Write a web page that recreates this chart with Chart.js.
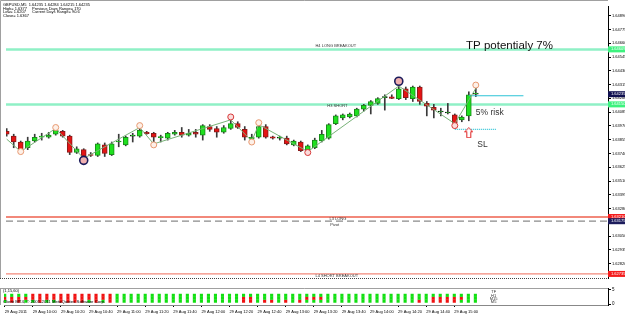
<!DOCTYPE html>
<html><head><meta charset="utf-8">
<script src="https://cdn.jsdelivr.net/npm/chart.js"></script>
<style>
html,body{margin:0;padding:0;background:#fff;width:625px;height:315px;overflow:hidden;}
#main{position:absolute;left:0;top:0;}
#panel{position:absolute;left:0;top:284px;}
</style></head><body>
<canvas id="main" width="625" height="284"></canvas>
<canvas id="panel" width="625" height="31"></canvas>
<script>
// ---------------- DATA ----------------
const barTimes = ["09:40","09:45","09:50","09:55",
 "10:00","10:05","10:10","10:15","10:20","10:25","10:30","10:35","10:40","10:45","10:50","10:55",
 "11:00","11:05","11:10","11:15","11:20","11:25","11:30","11:35","11:40","11:45","11:50","11:55",
 "12:00","12:05","12:10","12:15","12:20","12:25","12:30","12:35","12:40","12:45","12:50","12:55",
 "13:00","13:05","13:10","13:15","13:20","13:25","13:30","13:35","13:40","13:45","13:50","13:55",
 "14:00","14:05","14:10","14:15","14:20","14:25","14:30","14:35","14:40","14:45","14:50","14:55",
 "15:00","15:05","15:10","15:15"];

const ohlcOpen = [1.63925,1.63885,1.63836,1.63788,1.63844,1.63876,1.63876,1.63901,1.63925,1.63885,
 1.63748,1.63772,1.63731,1.63723,1.63812,1.63731,1.63836,1.63812,1.63885,1.63885,
 1.63917,1.63909,1.63872,1.63868,1.63901,1.63917,1.63893,1.63917,1.63893,1.63965,
 1.63949,1.63917,1.63949,1.63989,1.63941,1.63860,1.63876,1.63965,1.63880,1.63868,
 1.63868,1.63812,1.63836,1.63772,1.63788,1.63844,1.63868,1.63989,1.64037,1.64045,
 1.64054,1.64110,1.64142,1.64158,1.64206,1.64214,1.64198,1.64279,1.64198,1.64295,
 1.64158,1.64126,1.64086,1.64078,1.64062,1.64021,1.64054,1.64235];
const ohlcHigh = [1.63949,1.63901,1.63844,1.63876,1.63901,1.63909,1.63917,1.63949,1.63933,1.63893,
 1.63796,1.63780,1.63748,1.63828,1.63828,1.63836,1.63901,1.63885,1.63909,1.63957,
 1.63925,1.63917,1.63893,1.63917,1.63933,1.63957,1.63941,1.63941,1.63981,1.63981,
 1.63965,1.63973,1.64021,1.64005,1.63965,1.63901,1.63981,1.63981,1.63885,1.63885,
 1.63885,1.63852,1.63844,1.63812,1.63868,1.63933,1.63989,1.64062,1.64070,1.64078,
 1.64118,1.64150,1.64182,1.64206,1.64230,1.64230,1.64303,1.64295,1.64303,1.64303,
 1.64174,1.64150,1.64118,1.64158,1.64070,1.64054,1.64255,1.64284];
const ohlcLow = [1.63885,1.63788,1.63756,1.63772,1.63836,1.63852,1.63868,1.63893,1.63876,1.63731,
 1.63740,1.63699,1.63715,1.63715,1.63715,1.63723,1.63796,1.63804,1.63836,1.63876,
 1.63901,1.63820,1.63836,1.63852,1.63893,1.63876,1.63885,1.63876,1.63852,1.63925,
 1.63876,1.63909,1.63941,1.63949,1.63852,1.63844,1.63868,1.63868,1.63860,1.63852,
 1.63812,1.63804,1.63756,1.63756,1.63780,1.63836,1.63860,1.63981,1.64021,1.64037,
 1.64045,1.64094,1.64070,1.64150,1.64102,1.64198,1.64190,1.64190,1.64174,1.64150,
 1.64054,1.64037,1.64054,1.64070,1.63989,1.64005,1.64013,1.64215];
const ohlcClose = [1.63901,1.63836,1.63772,1.63844,1.63876,1.63885,1.63893,1.63933,1.63885,1.63748,
 1.63780,1.63715,1.63723,1.63820,1.63740,1.63820,1.63844,1.63876,1.63887,1.63933,
 1.63905,1.63876,1.63876,1.63909,1.63917,1.63893,1.63909,1.63901,1.63973,1.63941,
 1.63917,1.63957,1.63989,1.63957,1.63876,1.63876,1.63965,1.63876,1.63868,1.63870,
 1.63820,1.63844,1.63764,1.63804,1.63852,1.63901,1.63981,1.64054,1.64062,1.64070,
 1.64110,1.64142,1.64174,1.64198,1.64208,1.64200,1.64279,1.64206,1.64295,1.64174,
 1.64134,1.64102,1.64088,1.64080,1.63997,1.64045,1.64230,1.64235];

// zigzag swing line and swing markers
const zigBars   = [0, 2, 7, 11, 19, 21, 32, 35, 36, 43, 56, 64, 67];
const zigValues = [1.63860,1.63756,1.63949,1.63699,1.63957,1.63820,1.64021,1.63844,1.63981,1.63756,1.64303,1.63989,1.64284];
const markerBars   = [2, 7, 11, 19, 21, 32, 35, 36, 43, 56, 64, 67];
const markerValues = [1.63756,1.63957,1.63683,1.63973,1.63812,1.64045,1.63836,1.63997,1.63748,1.64343,1.63973,1.64311];
const markerLevel  = [1, 1, 3, 1, 1, 2, 1, 1, 2, 3, 2, 1];

// Camarilla levels
const levelNames  = ["H4 LONG BREAKOUT","H3 SHORT","L3 LONG","Pivot","L4 SHORT BREAKOUT"];
const levelValues = [1.64609, 1.64150, 1.63210, 1.63175, 1.62735];
const bidPrice = 1.64235;

// trade plan objects
const tpLineBars = [66, 73.8];
const tpLineValue = 1.64222;
const slLineBars = [64, 70];
const slLineValue = 1.63941;
const arrowBar = 66;
const arrowValue = 1.63913;

// price axis ticks
const yTickValues = [1.64890,1.64775,1.64660,1.64545,1.64430,1.64315,1.64200,1.64085,1.63970,1.63855,
 1.63740,1.63625,1.63510,1.63395,1.63280,1.63165,1.63050,1.62935,1.62820];

// time axis ticks
const timeTickTimes  = ["09:40","10:00","10:20","10:40","11:00","11:20","11:40","12:00","12:20","12:40",
 "13:00","13:20","13:40","14:00","14:20","14:40","15:00"];
const timeTickLabels = ["29 Aug 2011","29 Aug 10:00","29 Aug 10:20","29 Aug 10:40","29 Aug 11:00","29 Aug 11:20",
 "29 Aug 11:40","29 Aug 12:00","29 Aug 12:20","29 Aug 12:40","29 Aug 13:00","29 Aug 13:20","29 Aug 13:40",
 "29 Aug 14:00","29 Aug 14:20","29 Aug 14:40","29 Aug 15:00"];

// indicator panel signals (1 = up / green, -1 = down / red)
const signalNames = ["H1","M15","M5"];
const h1Signal = [1,1,1,1,-1,-1,-1,-1,-1,-1,-1,-1,-1,-1,-1,-1,
 1,1,1,1,1,1,1,1,1,1,1,1,1,1,1,1,1,1,1,1,1,1,1,1,1,1,1,1,1,1,1,1,1,1,1,1,
 1,1,1,1,1,1,1,1,1,1,1,1,1,1,1,1];
const m15Signal = [-1,-1,-1,-1,-1,-1,-1,-1,-1,-1,-1,-1,-1,-1,-1,-1,
 1,1,1,1,1,1,1,1,1,1,1,1,1,1,1,1,1,1,
 -1,-1, 1,1,1,1,1,1,1, -1,-1,-1,
 1,1,1,1,1,1,1,1,1,1,1,1,1,1,1, -1,-1,-1,-1,-1, 1,1];
const m5Signal = [1,-1,-1,1,1,-1,1,1,-1,-1,-1,-1,1,-1,1,-1,
 1,1,1,1,1,1,1,1,1,1,1,1,1,1,1,1,1,1,
 -1,-1,1,-1,-1,1,-1,1,-1,
 1,1,1,1,1,1,1,1,1,1,1,1,1,1,1,1,
 -1,1,-1,-1,-1,-1,1,1,1];
const signalRows = [h1Signal, m15Signal, m5Signal];

// ---------------- CHART ----------------
const FONT = '"Liberation Sans", Arial, sans-serif';
Chart.defaults.font.family = FONT;
const xMin = -0.1, xMax = 85.88;
const yMin = 1.62701, yMax = 1.64971;

const n = ohlcOpen.length;
const bodyFill = [], bodyBorder = [];
for (let i = 0; i < n; i++) {
  const o = ohlcOpen[i], c = ohlcClose[i];
  const up = c >= o;
  bodyFill.push(up ? '#1fe01f' : '#e41414');
  if (Math.abs(c - o) < 0.00004) bodyBorder.push('#111');
  else bodyBorder.push(up ? '#1a8a1a' : '#8a1a1a');
}

const arrowImg = document.createElement('canvas');
arrowImg.width = 9; arrowImg.height = 11;
(function(){
  const c = arrowImg.getContext('2d');
  c.beginPath();
  c.moveTo(4.5,0.5); c.lineTo(8.5,4.5); c.lineTo(6.5,4.5); c.lineTo(6.5,10.5);
  c.lineTo(2.5,10.5); c.lineTo(2.5,4.5); c.lineTo(0.5,4.5); c.closePath();
  c.fillStyle = '#fff'; c.fill();
  c.strokeStyle = '#e02020'; c.lineWidth = 1; c.stroke();
})();

const levelStyle = [
  {color:'#8ff0c6', width:2.5, dash:[]},
  {color:'#8ff0c6', width:2.5, dash:[]},
  {color:'#f2887a', width:2, dash:[]},
  {color:'#8a8a8a', width:1.2, dash:[7,4]},
  {color:'#f2887a', width:1.2, dash:[]}
];
const levelBoxColor = ['#3df27e','#3df27e','#f41c1c','#1c1c5c','#f41c1c'];

const levelDatasets = levelValues.map((v, k) => ({
  type:'line', order:5, data:[{x:xMin, y:v},{x:xMax, y:v}],
  borderColor: levelStyle[k].color, borderWidth: levelStyle[k].width, borderDash: levelStyle[k].dash,
  pointRadius:0, fill:false
}));

const mainPlugin = {
  id:'mainDecor',
  beforeDraw(chart){
    const ctx = chart.ctx;
    ctx.save(); ctx.fillStyle = '#fff'; ctx.fillRect(0,0,chart.width,chart.height); ctx.restore();
  },
  afterDatasetsDraw(chart){
    const ctx = chart.ctx, xs = chart.scales.x, ys = chart.scales.y, a = chart.chartArea;
    ctx.save();
    // level labels
    const labelBars = [44.1, 45.8, 46.1, 46.2, 44.1];
    const labelOff  = [-3, 2, 2, 3.5, 2];
    ctx.font = '4px ' + FONT; ctx.fillStyle = '#333'; ctx.textAlign = 'left'; ctx.textBaseline = 'middle';
    levelNames.forEach((t,k) => {
      ctx.fillText(t, xs.getPixelForValue(labelBars[k]), ys.getPixelForValue(levelValues[k]) + labelOff[k]);
    });
    // annotation texts
    ctx.fillStyle = '#111';
    ctx.font = '11.5px ' + FONT;
    ctx.fillText('TP potentialy 7%', xs.getPixelForValue(65.6), ys.getPixelForValue(1.64641));
    ctx.fillStyle = '#333';
    ctx.font = '8.5px ' + FONT;
    ctx.fillText('5% risk', xs.getPixelForValue(67.0), ys.getPixelForValue(1.64078));
    ctx.fillText('SL', xs.getPixelForValue(67.2), ys.getPixelForValue(1.63812));
    // frame
    ctx.strokeStyle = '#a0a0a0'; ctx.lineWidth = 1;
    ctx.beginPath(); ctx.moveTo(0.5, a.bottom); ctx.lineTo(0.5, 0.5); ctx.lineTo(a.right, 0.5); ctx.stroke();
    ctx.strokeStyle = '#444'; ctx.setLineDash([1,1]);
    ctx.beginPath(); ctx.moveTo(0, a.bottom + 0.5); ctx.lineTo(a.right, a.bottom + 0.5); ctx.stroke();
    ctx.setLineDash([]);
    // header
    ctx.fillStyle = '#000'; ctx.font = '4px ' + FONT; ctx.textBaseline = 'middle';
    ctx.fillText('GBPUSD,M5  1.64235 1.64284 1.64215 1.64235', 3, 4.7);
    ctx.fillText('High= 1.6377', 3, 8.4);
    ctx.fillText('Previous Days Range= 170', 32, 8.4);
    ctx.fillText('Low= 1.6207', 3, 12);
    ctx.fillText('Current Days Range= 90.6', 32, 12);
    ctx.fillText('Close= 1.6367', 3, 15.7);
    ctx.restore();
  },
  afterDraw(chart){
    const ctx = chart.ctx, ys = chart.scales.y, a = chart.chartArea;
    ctx.save();
    const boxes = levelValues.map((v,k)=>({v, c:levelBoxColor[k]}));
    boxes.push({v:bidPrice, c:'#101050'});
    ctx.font = '4px ' + FONT; ctx.textBaseline = 'middle'; ctx.textAlign = 'left';
    boxes.forEach(b => {
      const py = ys.getPixelForValue(b.v);
      ctx.fillStyle = b.c; ctx.fillRect(a.right, py - 3, chart.width - a.right, 6);
      ctx.fillStyle = '#fff'; ctx.fillText(b.v.toFixed(5), a.right + 3, py);
    });
    ctx.restore();
  }
};

new Chart(document.getElementById('main'), {
  type:'bar',
  data:{ datasets:[
    { type:'line', order:0, showLine:false,
      data: markerBars.map((b,k)=>({x:b, y:markerValues[k]})),
      pointRadius: markerLevel.map(l => l===3 ? 4 : 3),
      pointBorderWidth: markerLevel.map(l => l===3 ? 1.6 : 1),
      pointBackgroundColor: markerLevel.map(l => l===3 ? '#f0b0b0' : l===2 ? '#fadcdc' : '#fdf0e8'),
      pointBorderColor: markerLevel.map(l => l===3 ? '#1a1a5a' : l===2 ? '#d83a3a' : '#e89a72') },
    { type:'line', order:0, showLine:false, data:[{x:arrowBar, y:arrowValue}], pointStyle: arrowImg, pointRadius:5 },
    { type:'line', order:1, data: zigBars.map((b,k)=>({x:b, y:zigValues[k]})), borderColor:'#78b278', borderWidth:1, pointRadius:0 },
    { type:'line', order:1, data: tpLineBars.map(b=>({x:b, y:tpLineValue})), borderColor:'#2cc3d6', borderWidth:1.2, pointRadius:0 },
    { type:'line', order:1, data: slLineBars.map(b=>({x:b, y:slLineValue})), borderColor:'#2cc3d6', borderWidth:1.2, borderDash:[1,1], pointRadius:0 },
    { type:'bar', order:2, grouped:false, barThickness:5, minBarLength:1, borderSkipped:false, borderWidth:1,
      data: ohlcOpen.map((o,i)=>({x:i, y:[o, ohlcClose[i]]})),
      backgroundColor: bodyFill, borderColor: bodyBorder },
    { type:'bar', order:3, grouped:false, barThickness:1, borderWidth:0,
      data: ohlcLow.map((l,i)=>({x:i, y:[l, ohlcHigh[i]]})),
      backgroundColor:'#3a3a3a' },
    ...levelDatasets
  ]},
  options:{
    responsive:false, animation:false, devicePixelRatio:1,
    layout:{ padding:{left:1, top:1, right:0, bottom:1} },
    plugins:{ legend:{display:false}, tooltip:{enabled:false} },
    scales:{
      x:{ type:'linear', min:xMin, max:xMax, display:false, offset:false, grid:{offset:false} },
      y:{ type:'linear', position:'right', min:yMin, max:yMax,
        afterBuildTicks(s){ s.ticks = yTickValues.map(v=>({value:v})); },
        afterFit(s){ s.width = 17; },
        ticks:{ autoSkip:false, color:'#000', padding:1, font:{size:4}, callback:v=>Number(v).toFixed(5) },
        grid:{ drawOnChartArea:false, drawTicks:true, tickLength:3, color:'#000' },
        border:{ display:true, color:'#000', width:1 } }
    }
  },
  plugins:[mainPlugin]
});

// ---------------- PANEL ----------------
const rowY = [3, 2, 1];
const tickBars = timeTickTimes.map(t => barTimes.indexOf(t));
const panelPlugin = {
  id:'panelDecor',
  beforeDraw(chart){
    const ctx = chart.ctx;
    ctx.save(); ctx.fillStyle = '#fff'; ctx.fillRect(0,0,chart.width,chart.height); ctx.restore();
  },
  afterDatasetsDraw(chart){
    const ctx = chart.ctx, xs = chart.scales.x, ys = chart.scales.y, a = chart.chartArea;
    ctx.save();
    ctx.strokeStyle = '#a0a0a0'; ctx.lineWidth = 1;
    ctx.beginPath(); ctx.moveTo(0.5, a.top + 0.5); ctx.lineTo(a.right, a.top + 0.5);
    ctx.moveTo(0.5, a.top); ctx.lineTo(0.5, a.bottom); ctx.stroke();
    ctx.fillStyle = '#000'; ctx.font = '4px ' + FONT; ctx.textBaseline = 'middle'; ctx.textAlign = 'left';
    ctx.fillText('(1,15,60)', 3, ys.getPixelForValue(4.6));
    ctx.font = '4.3px ' + FONT;
    ctx.fillText('Client MT4, \u00A9 2001-2011 MetaQuotes Software Corp.', 3, ys.getPixelForValue(0.9));
    ctx.font = '4px ' + FONT; ctx.textAlign = 'center'; ctx.fillStyle = '#333';
    const cx = xs.getPixelForValue(69.6);
    ctx.fillText('TF', cx, ys.getPixelForValue(4.05));
    signalNames.forEach((s,k) => ctx.fillText(s, cx, ys.getPixelForValue(rowY[k] - 0.1)));
    ctx.restore();
  }
};

new Chart(document.getElementById('panel'), {
  type:'line',
  data:{ datasets: signalRows.map((sig, r) => ({
    showLine:false, pointStyle:'rect', pointRadius:2.2, pointBorderWidth:0,
    data: sig.map((s,i)=>({x:i, y:rowY[r]})),
    pointBackgroundColor: sig.map(s => s > 0 ? '#12e012' : '#f01212'),
    pointBorderColor: sig.map(s => s > 0 ? '#12e012' : '#f01212')
  }))},
  options:{
    responsive:false, animation:false, devicePixelRatio:1,
    layout:{ padding:{left:1, top:1, right:0, bottom:0} },
    plugins:{ legend:{display:false}, tooltip:{enabled:false} },
    scales:{
      x:{ type:'linear', min:xMin, max:xMax, offset:false,
        afterBuildTicks(s){ s.ticks = tickBars.map(v=>({value:v})); },
        afterFit(s){ s.height = 10; },
        ticks:{ autoSkip:false, maxRotation:0, minRotation:0, align:'start', color:'#000', padding:2, font:{size:4},
          callback:(v, idx) => timeTickLabels[idx] },
        grid:{ drawOnChartArea:false, drawTicks:true, tickLength:2, color:'#000' },
        border:{ display:true, color:'#888', width:1 } },
      y:{ type:'linear', position:'right', min:-0.3, max:5.5,
        afterBuildTicks(s){ s.ticks = [{value:5},{value:0}]; },
        afterFit(s){ s.width = 17; },
        ticks:{ autoSkip:false, color:'#000', padding:1, font:{size:4.5} },
        grid:{ drawOnChartArea:false, drawTicks:true, tickLength:3, color:'#000' },
        border:{ display:true, color:'#000', width:1 } }
    }
  },
  plugins:[panelPlugin]
});
</script>
</body></html>
